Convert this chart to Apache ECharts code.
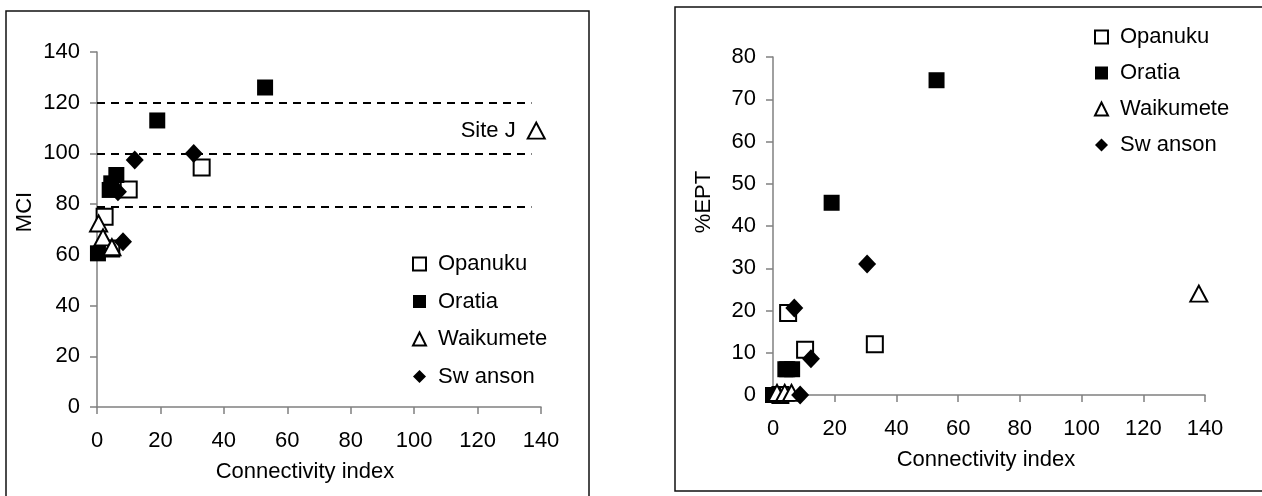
<!DOCTYPE html>
<html><head><meta charset="utf-8">
<script src="https://cdn.jsdelivr.net/npm/echarts@6/dist/echarts.min.js"></script>
<style>html,body{margin:0;padding:0;background:#fff}#c{width:1262px;height:496px}</style>
</head><body><div id="c"></div>
<script>
// Series names (legend)
const seriesNames = ['Opanuku', 'Oratia', 'Waikumete', 'Sw anson'];

// Left panel: [Connectivity index, MCI]
const opanukuMCI   = [[33, 94.5], [10, 85.8], [2.4, 75], [4.5, 62.5]];
const oratiaMCI    = [[53, 126], [19, 113], [6.1, 91.5], [4.5, 88.2], [4, 85.6], [0.3, 60.6]];
const waikumeteMCI = [[0.5, 72.4], [1.9, 66.9], [4.7, 63], [138.5, 109]];
const swansonMCI   = [[30.5, 100], [11.9, 97.4], [6.6, 84.9], [8.2, 65.2]];
const siteJIndex = 3;
const siteJLabel = 'Site J';
const mciThresholds = [120, 100, 79];
const thresholdXRange = [0, 137];

// Right panel: [Connectivity index, %EPT]
const opanukuEPT   = [[33, 12], [10.4, 10.7], [4.9, 19.4], [2.4, 0]];
const oratiaEPT    = [[53, 74.5], [19, 45.5], [6.2, 6.1], [4.6, 6.1], [4, 6.1], [0, 0]];
const waikumeteEPT = [[1.3, 0.5], [3.8, 0.5], [6, 0.5], [138, 24]];
const swansonEPT   = [[30.5, 31], [12.3, 8.6], [6.9, 20.6], [8.8, 0]];

// Axis ranges [min, max, interval]
const xRange   = [0, 140, 20];
const mciRange = [0, 140, 20];
const eptRange = [0, 80, 10];
const xTitle = 'Connectivity index';
const mciTitle = 'MCI';
const eptTitle = '%EPT';

const FONT = "'Liberation Sans', Arial, sans-serif";
const FS = 22;
const axisGray = '#808080';

function xAxisCfg(gridIndex, range, shiftLeft) {
  return {
    type: 'value', gridIndex, min: range[0], max: range[1], interval: range[2],
    name: xTitle, nameLocation: 'middle', nameGap: 54,
    nameTextStyle: {color: '#000', fontSize: FS, fontFamily: FONT, padding: [0, shiftLeft, 0, 0]},
    axisLine: {show: true, onZero: false, lineStyle: {color: axisGray, width: 1.5}},
    axisTick: {show: true, inside: false, length: 7, lineStyle: {color: axisGray, width: 1.5}},
    axisLabel: {color: '#000', fontSize: FS, fontFamily: FONT, margin: 23},
    splitLine: {show: false}
  };
}
function yAxisCfg(gridIndex, range, title, gap, shift) {
  return {
    type: 'value', gridIndex, min: range[0], max: range[1], interval: range[2],
    name: title, nameLocation: 'middle', nameGap: gap, nameRotate: 90,
    nameTextStyle: {color: '#000', fontSize: FS, fontFamily: FONT, padding: [0, 0, 0, shift]},
    axisLine: {show: true, onZero: false, lineStyle: {color: axisGray, width: 1.5}},
    axisTick: {show: true, inside: false, length: 7, lineStyle: {color: axisGray, width: 1.5}},
    axisLabel: {color: '#000', fontSize: FS, fontFamily: FONT, margin: 17},
    splitLine: {show: false}
  };
}

const styles = {
  'Opanuku':   {symbol: 'rect', symbolSize: 16, itemStyle: {color: '#fff', borderColor: '#000', borderWidth: 2, opacity: 1}},
  'Oratia':    {symbol: 'rect', symbolSize: 16, itemStyle: {color: '#000', opacity: 1}},
  'Waikumete': {symbol: 'triangle', symbolSize: [17, 16], itemStyle: {color: '#fff', borderColor: '#000', borderWidth: 2, opacity: 1}},
  'Sw anson':  {symbol: 'diamond', symbolSize: [18, 19], itemStyle: {color: '#000', opacity: 1}}
};

function scatter(name, data, idx) {
  return Object.assign({
    type: 'scatter', name, data, xAxisIndex: idx, yAxisIndex: idx,
    silent: true, animation: false, emphasis: {disabled: true}
  }, JSON.parse(JSON.stringify(styles[name])));
}

const waikumeteMCIData = waikumeteMCI.map((p, i) => i === siteJIndex ? {
  value: p,
  label: {show: true, formatter: siteJLabel, position: 'left', distance: 11,
          color: '#000', fontSize: FS, fontFamily: FONT}
} : p);

const thresholdSeries = {
  type: 'line', name: 'thresholds', xAxisIndex: 0, yAxisIndex: 0, data: [],
  silent: true, animation: false,
  markLine: {
    silent: true, symbol: ['none', 'none'], label: {show: false},
    lineStyle: {color: '#000', type: [8, 6], width: 2, opacity: 1},
    data: mciThresholds.map(v => [{coord: [thresholdXRange[0], v]}, {coord: [thresholdXRange[1], v]}])
  }
};

function legendCfg(left, top, gap) {
  return {
    data: seriesNames, orient: 'vertical', left, top, padding: 0,
    itemWidth: 13, itemHeight: 13, itemGap: gap, selectedMode: false,
    textStyle: {color: '#000', fontSize: FS, fontFamily: FONT, padding: [0, 0, 0, 7]}
  };
}

const option = {
  backgroundColor: '#fff',
  animation: false,
  textStyle: {fontFamily: FONT},
  grid: [
    {left: 97, top: 52, width: 444, height: 355, containLabel: false},
    {left: 773, top: 57, width: 432, height: 338, containLabel: false}
  ],
  xAxis: [xAxisCfg(0, xRange, 28), xAxisCfg(1, xRange, 6)],
  yAxis: [yAxisCfg(0, mciRange, mciTitle, 61, 35), yAxisCfg(1, eptRange, eptTitle, 58, 48)],
  legend: [legendCfg(412, 253, 15.5), legendCfg(1094, 26, 14)],
  graphic: [
    {type: 'rect', shape: {x: 6, y: 11, width: 583, height: 490}, style: {fill: 'none', stroke: '#111', lineWidth: 1.5}, silent: true},
    {type: 'rect', shape: {x: 675, y: 7, width: 620, height: 484}, style: {fill: 'none', stroke: '#111', lineWidth: 1.5}, silent: true}
  ],
  series: [
    thresholdSeries,
    scatter('Opanuku', opanukuMCI, 0),
    scatter('Oratia', oratiaMCI, 0),
    scatter('Waikumete', waikumeteMCIData, 0),
    scatter('Sw anson', swansonMCI, 0),
    scatter('Opanuku', opanukuEPT, 1),
    scatter('Oratia', oratiaEPT, 1),
    scatter('Waikumete', waikumeteEPT, 1),
    scatter('Sw anson', swansonEPT, 1)
  ]
};

const chart = echarts.init(document.getElementById('c'), null, {renderer: 'canvas'});
chart.setOption(option);
</script>
</body></html>
